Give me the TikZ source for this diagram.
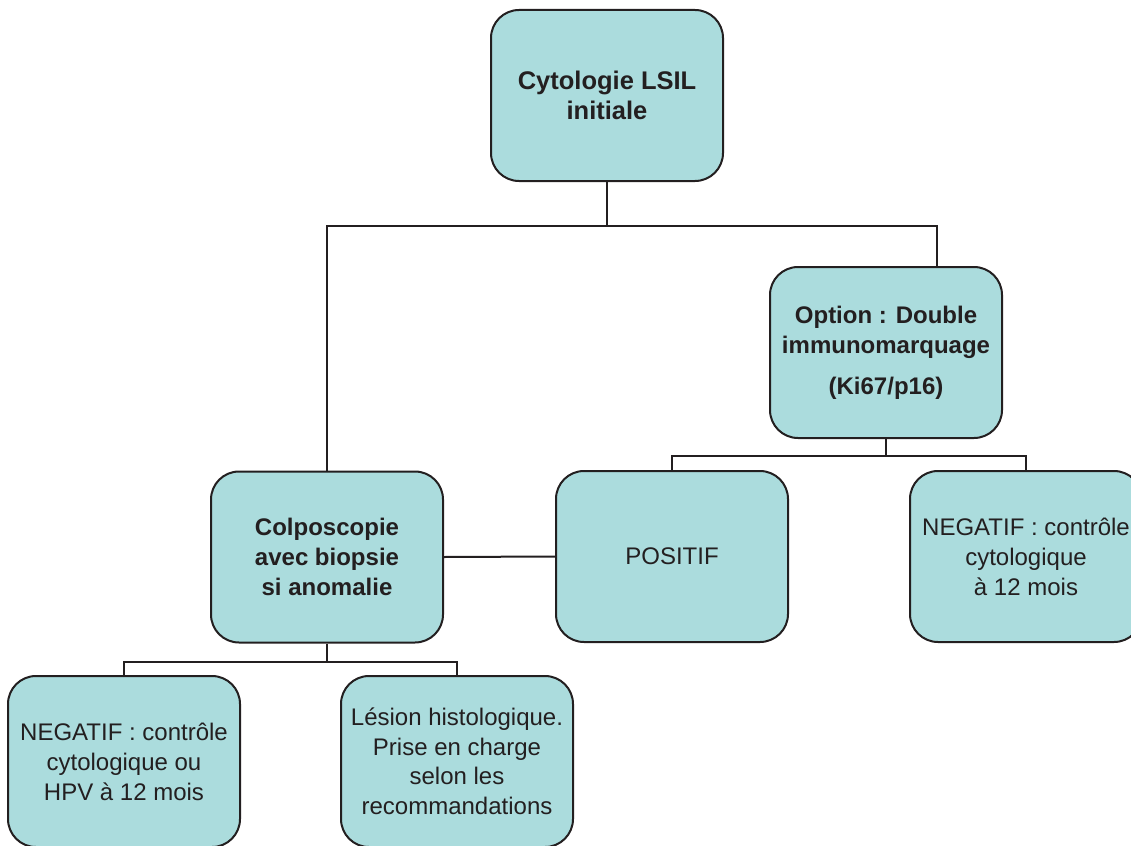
\documentclass[tikz,border=0pt]{standalone}
\usepackage{fontspec}
\setmainfont{Liberation Sans}
\definecolor{boxfill}{RGB}{171,220,221}
\definecolor{ink}{RGB}{35,31,32}
\begin{document}
\begin{tikzpicture}[x=1pt,y=-1pt,
  card/.style={draw=ink, line width=2pt, fill=boxfill, rounded corners=28pt,
    minimum width=232pt, minimum height=171pt, align=center, text=ink,
    font=\fontsize{24}{30}\selectfont, inner sep=0pt},
  strong/.style={card, font=\fontsize{24}{30}\selectfont\bfseries},
  link/.style={draw=ink, line width=2pt}]
\useasboundingbox (0,0) rectangle (1131,845);
\clip (0,0) rectangle (1131,845);

% boxes
\node[strong, font=\fontsize{25.5}{30}\selectfont\bfseries] (top) at (607,95.5) {Cytologie LSIL\\initiale};
\node[strong] (option) at (886,352.5) {Option : Double\\immunomarquage\\[11pt](Ki67/p16)};
\node[strong] (colpo) at (327,557) {Colposcopie\\avec biopsie\\si anomalie};
\node[card] (positif) at (672,556.5) {POSITIF};
\node[card] (negR) at (1026,556.5) {NEGATIF : contrôle\\cytologique\\à 12 mois};
\node[card] (negL) at (124,761.5) {NEGATIF : contrôle\\cytologique ou\\HPV à 12 mois};
\node[card, font=\fontsize{24}{29.5}\selectfont] (lesion) at (457,761.5) {Lésion histologique.\\Prise en charge\\selon les\\recommandations};

% connectors (yshift is in page direction: negative means downward)
\coordinate (j1) at ([yshift=-44pt]top.south);
\coordinate (optin) at ([xshift=51pt]option.north);
\draw[link] (top.south) -- (j1);
\draw[link] (colpo.north) |- (j1) -| (optin);

\coordinate (j2) at ([yshift=-17pt]option.south);
\draw[link] (option.south) -- (j2);
\draw[link] (positif.north) |- (j2) -| (negR.north);

\draw[link] (colpo.east) -- (positif.west);

\coordinate (j3) at ([yshift=-18pt]colpo.south);
\draw[link] (colpo.south) -- (j3);
\draw[link] (negL.north) |- (j3) -| (lesion.north);
\end{tikzpicture}
\end{document}
